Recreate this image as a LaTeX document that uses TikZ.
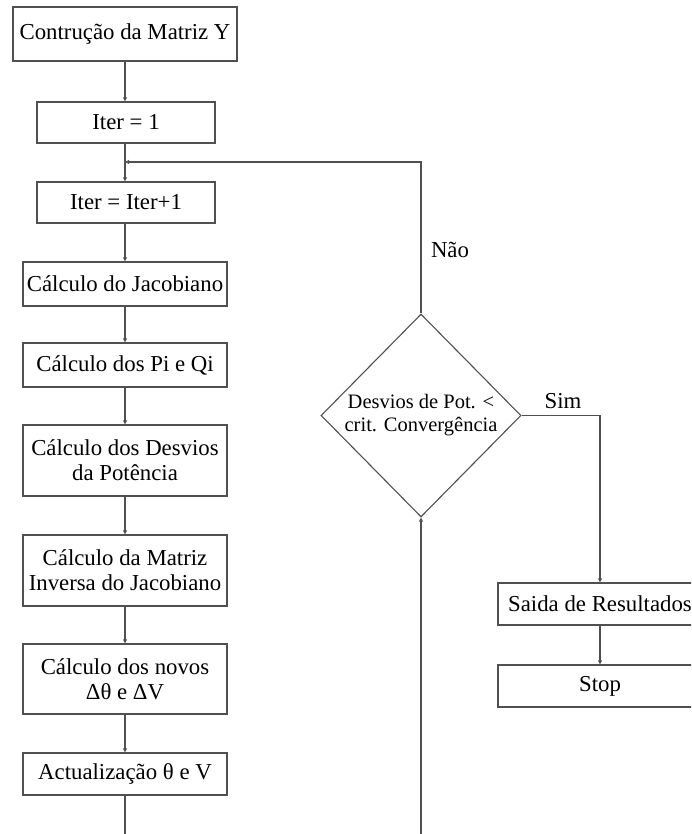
\documentclass[tikz,border=0pt]{standalone}
\usepackage{fontspec}
\setmainfont{Liberation Serif}
\usetikzlibrary{arrows.meta,shapes.geometric}
\definecolor{linecol}{RGB}{80,80,80}
\tikzset{
  box/.style={draw=linecol, line width=1.4pt, fill=white, minimum width=#1, inner sep=0pt, align=center, font=\fontsize{22.8}{25}\selectfont},
  box/.default={204pt},
  conn/.style={draw=linecol, line width=1.3pt},
  arr/.style={conn, -{Triangle[open,length=4pt,width=4pt]}},
  lbl/.style={font=\fontsize{22.8}{25}\selectfont, inner sep=0pt},
}
\begin{document}
\begin{tikzpicture}[x=1pt,y=-1pt]
\useasboundingbox (0,0) rectangle (691,834);
\clip (0,0) rectangle (691,834);
\fill[white] (0,0) rectangle (691,834);

\node[box=224pt, minimum height=54pt] (b1) at (125,34) {Contrução da Matriz Y};
\node[box=178pt, minimum height=41pt] (b2) at (126,122.5) {Iter = 1};
\node[box=178pt, minimum height=41pt] (b3) at (126,202.5) {Iter = Iter+1};
\node[box, minimum height=44pt] (b4) at (125,284) {Cálculo do Jacobiano};
\node[box, minimum height=44pt] (b5) at (125,365) {Cálculo dos Pi e Qi};
\node[box, minimum height=71pt] (b6) at (125,460.5) {Cálculo dos Desvios\\da Potência};
\node[box, minimum height=71pt] (b7) at (125,570.5) {Cálculo da Matriz\\Inversa do Jacobiano};
\node[box, minimum height=70pt] (b8) at (125,679) {Cálculo dos novos\\Δθ e ΔV};
\node[box, minimum height=42pt] (b9) at (125,774) {Actualização θ e V};

\node[diamond, draw=linecol, line width=1.1pt, minimum width=200pt, minimum height=203pt, inner sep=0pt, align=center, font=\fontsize{20.5}{23}\selectfont] (d) at (421,415.5) {Desvios de Pot. <\\crit. Convergência};

\node[box, minimum height=42pt] (r1) at (600,604) {Saida de Resultados};
\node[box, minimum height=42pt] (r2) at (600,686) {Stop};

\node[lbl] (nao) at (450,250) {Não};
\node[lbl] (sim) at (563,401) {Sim};

\coordinate (j) at (125,162);
\coordinate (s) at (600,415.5);

\draw[arr] (b1.south -| j) -- (b2.north -| j);
\draw[conn] (b2.south -| j) -- (j);
\draw[arr] (j) -- (b3.north -| j);
\draw[arr] (d.north) -- (d.north |- j) -- (j);
\draw[arr] (b3.south -| j) -- (b4.north);
\draw[arr] (b4.south) -- (b5.north);
\draw[arr] (b5.south) -- (b6.north);
\draw[arr] (b6.south) -- (b7.north);
\draw[arr] (b7.south) -- (b8.north);
\draw[arr] (b8.south) -- (b9.north);
\draw[arr] (b9.south) -- ++(0,60) -| (d.south);
\draw[arr] (d.east) -- (s) -- (r1.north);
\draw[arr] (r1.south) -- (r2.north);
\end{tikzpicture}
\end{document}
